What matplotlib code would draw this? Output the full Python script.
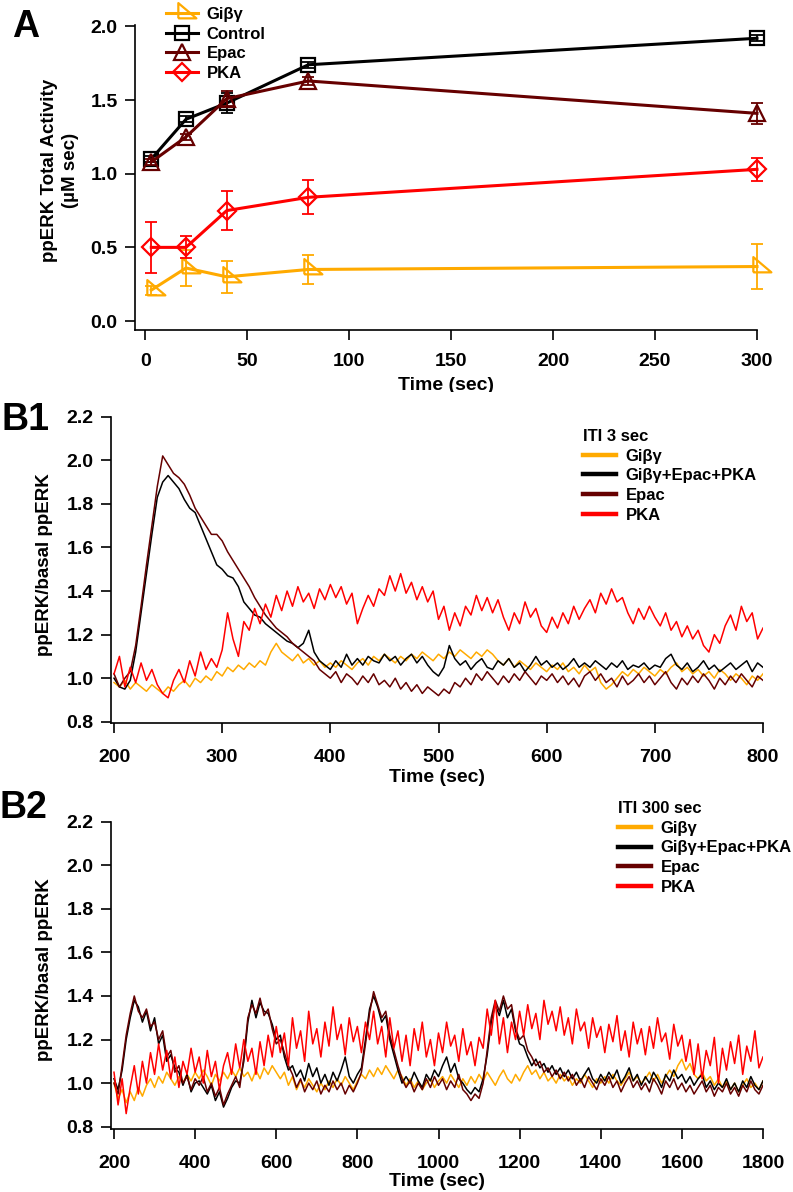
import numpy as np
import matplotlib
matplotlib.use("Agg")
import matplotlib.pyplot as plt
from matplotlib.lines import Line2D
from matplotlib.patches import Rectangle

plt.rcParams['font.family'] = ['Liberation Sans', 'DejaVu Sans']
plt.rcParams['font.weight'] = 'bold'
plt.rcParams['axes.linewidth'] = 1.2

ORANGE = '#FFAA00'
DARKRED = '#660000'
RED = '#FF0000'
BLACK = '#000000'

# ---- panel A: total activity vs ITI ----
iti = [3, 20, 40, 80, 300]
gbg_act = [0.21, 0.36, 0.30, 0.35, 0.37]
gbg_err = [0.03, 0.12, 0.11, 0.10, 0.155]
ctrl_act = [1.10, 1.37, 1.48, 1.74, 1.92]
ctrl_err = [0.02, 0.02, 0.07, 0.02, 0.02]
epac_act = [1.08, 1.25, 1.51, 1.63, 1.41]
epac_err = [0.02, 0.02, 0.05, 0.03, 0.07]
pka_act = [0.50, 0.50, 0.75, 0.84, 1.03]
pka_err = [0.175, 0.075, 0.135, 0.115, 0.077]

# ---- panel B1: ITI 3 sec traces, 200..800 s every 5 s ----
b1_gbg = [0.98, 0.96, 0.99, 0.95, 0.98, 0.96, 0.94, 0.97, 0.95, 0.93, 0.96, 0.94, 0.97, 0.99, 0.96, 1.00, 0.98, 1.01, 0.99, 1.03,
          1.01, 1.05, 1.03, 1.06, 1.04, 1.07, 1.05, 1.08, 1.06, 1.12, 1.16, 1.12, 1.10, 1.08, 1.11, 1.07, 1.09, 1.06, 1.08, 1.05,
          1.07, 1.05, 1.08, 1.06, 1.04, 1.07, 1.09, 1.06, 1.10, 1.08, 1.11, 1.09, 1.07, 1.10, 1.08, 1.11, 1.09, 1.12, 1.10, 1.08,
          1.11, 1.09, 1.12, 1.10, 1.13, 1.11, 1.09, 1.12, 1.10, 1.13, 1.11, 1.08, 1.06, 1.09, 1.05, 1.08, 1.06, 1.04, 1.07, 1.05,
          1.03, 1.06, 1.04, 1.07, 1.03, 1.05, 1.02, 1.06, 1.03, 1.05, 0.98, 0.95, 0.97, 1.00, 1.03, 1.01, 1.04, 1.02, 1.05, 1.03,
          1.01, 1.04, 1.02, 1.05, 1.07, 1.03, 1.05, 1.02, 1.04, 1.01, 1.03, 1.00, 1.04, 1.02, 0.99, 1.02, 1.00, 0.97, 1.01, 0.99,
          1.02]
b1_all = [1.00, 0.96, 0.95, 0.99, 1.12, 1.30, 1.48, 1.66, 1.83, 1.90, 1.93, 1.90, 1.87, 1.82, 1.78, 1.76, 1.70, 1.64, 1.58, 1.52,
          1.50, 1.47, 1.46, 1.42, 1.35, 1.32, 1.29, 1.28, 1.25, 1.23, 1.21, 1.19, 1.17, 1.16, 1.14, 1.16, 1.22, 1.12, 1.08, 1.06,
          1.04, 1.08, 1.05, 1.11, 1.06, 1.09, 1.06, 1.10, 1.08, 1.07, 1.11, 1.08, 1.10, 1.06, 1.09, 1.11, 1.07, 1.10, 1.06, 1.03,
          1.01, 1.05, 1.15, 1.09, 1.06, 1.08, 1.04, 1.07, 1.09, 1.05, 1.04, 1.08, 1.06, 1.09, 1.05, 1.07, 1.03, 1.06, 1.10, 1.06,
          1.08, 1.05, 1.07, 1.04, 1.06, 1.09, 1.05, 1.07, 1.05, 1.08, 1.06, 1.04, 1.07, 1.05, 1.08, 1.04, 1.06, 1.05, 1.07, 1.04,
          1.06, 1.05, 1.09, 1.11, 1.06, 1.04, 1.07, 1.03, 1.05, 1.08, 1.04, 1.06, 1.03, 1.05, 1.07, 1.04, 1.06, 1.08, 1.03, 1.07,
          1.05]
b1_epac = [1.02, 0.96, 1.00, 1.03, 1.15, 1.33, 1.52, 1.70, 1.88, 2.02, 1.98, 1.94, 1.92, 1.89, 1.84, 1.78, 1.74, 1.70, 1.66, 1.66,
           1.63, 1.58, 1.54, 1.50, 1.46, 1.42, 1.37, 1.33, 1.29, 1.26, 1.23, 1.21, 1.19, 1.16, 1.14, 1.12, 1.10, 1.08, 1.04, 1.02,
           1.00, 1.03, 0.98, 1.02, 1.00, 0.97, 1.01, 0.98, 1.02, 0.97, 0.99, 0.96, 1.00, 0.95, 0.98, 0.94, 0.97, 0.93, 0.96, 0.94,
           0.92, 0.95, 0.93, 0.98, 0.96, 1.00, 0.97, 1.02, 0.99, 1.03, 1.00, 0.97, 1.01, 0.98, 1.02, 0.99, 1.03, 1.00, 0.97, 1.01,
           0.99, 1.02, 0.98, 1.01, 0.97, 1.00, 0.96, 1.01, 1.03, 0.99, 1.02, 0.98, 1.00, 0.96, 1.01, 0.97, 0.99, 1.02, 0.98, 1.01,
           0.97, 1.00, 1.03, 0.98, 0.95, 1.00, 0.97, 1.01, 0.98, 1.02, 0.99, 0.95, 1.00, 0.97, 1.01, 0.98, 1.02, 0.99, 0.96, 1.01,
           0.99]
b1_pka = [1.02, 1.10, 0.96, 1.05, 0.98, 1.07, 0.99, 1.04, 0.97, 0.93, 0.91, 0.99, 1.04, 0.98, 1.08, 1.01, 1.12, 1.04, 1.09, 1.05,
          1.13, 1.30, 1.18, 1.10, 1.26, 1.22, 1.32, 1.25, 1.34, 1.28, 1.38, 1.31, 1.40, 1.33, 1.42, 1.35, 1.39, 1.32, 1.41, 1.36,
          1.43, 1.37, 1.42, 1.34, 1.39, 1.25, 1.32, 1.38, 1.33, 1.41, 1.38, 1.47, 1.40, 1.48, 1.39, 1.44, 1.36, 1.42, 1.35, 1.40,
          1.27, 1.33, 1.22, 1.30, 1.24, 1.33, 1.29, 1.38, 1.31, 1.37, 1.30, 1.36, 1.28, 1.22, 1.30, 1.25, 1.35, 1.28, 1.32, 1.24,
          1.21, 1.28, 1.23, 1.30, 1.25, 1.33, 1.27, 1.32, 1.36, 1.30, 1.39, 1.34, 1.41, 1.35, 1.37, 1.30, 1.25, 1.32, 1.27, 1.33,
          1.28, 1.24, 1.30, 1.22, 1.26, 1.19, 1.24, 1.18, 1.22, 1.15, 1.12, 1.20, 1.16, 1.24, 1.29, 1.22, 1.33, 1.26, 1.30, 1.18,
          1.23]

# ---- panel B2: ITI 300 sec traces, 200..1800 s every 10 s ----
b2_gbg = [1.00, 0.93, 0.97, 0.91, 0.96, 0.92, 0.98, 0.94, 0.99, 1.02, 0.98,
          1.03, 1.00, 1.05, 1.02, 0.99, 1.03, 1.00, 1.04, 1.01, 1.05,
          1.02, 1.06, 1.03, 0.99, 1.04, 1.01, 1.05, 1.02, 1.06, 1.03,
          1.07, 1.03, 1.05, 1.01, 1.06, 1.02, 1.07, 1.04, 1.08, 1.05,
          1.02, 1.05, 0.99, 1.03, 0.97, 1.01, 0.98, 1.02, 0.99, 0.96,
          1.00, 0.97, 1.01, 0.98, 1.02, 0.99, 1.03, 1.00, 0.97, 1.01,
          1.04, 1.02, 1.06, 1.03, 1.07, 1.04, 1.08, 1.05, 1.02, 1.06,
          1.03, 0.99, 1.02, 0.98, 1.01, 0.97, 1.00, 1.02, 0.98, 1.01,
          1.03, 1.00, 1.04, 1.01, 0.98, 1.02, 0.99, 1.03, 1.00, 1.04,
          1.01, 1.05, 1.02, 0.99, 1.03, 1.06, 1.02, 1.00, 1.04, 1.01,
          1.05, 1.08, 1.04, 1.06, 1.02, 1.05, 1.01, 1.03, 1.00, 1.04,
          1.01, 1.03, 0.99, 1.02, 1.00, 1.04, 1.01, 0.98, 1.02, 1.00,
          1.03, 1.00, 1.04, 1.01, 0.99, 1.02, 1.05, 1.01, 1.03, 1.00,
          1.02, 1.05, 1.01, 1.04, 1.00, 1.03, 1.06, 1.03, 1.08, 1.11,
          1.06, 1.09, 1.04, 1.02, 1.05, 1.01, 1.03, 0.99, 1.02, 0.98,
          1.01, 0.97, 1.00, 0.96, 0.99, 1.02, 0.98, 1.00, 0.97, 1.01]
b2_all = [1.02, 0.97, 1.06, 1.20, 1.30, 1.38, 1.35, 1.28, 1.33, 1.24, 1.30,
          1.18, 1.22, 1.10, 1.13, 1.07, 1.05, 0.99, 1.04, 0.96, 1.00,
          1.01, 0.98, 0.95, 0.99, 0.92, 0.96, 0.89, 0.93, 0.98, 1.01,
          1.00, 1.10, 1.28, 1.38, 1.30, 1.37, 1.33, 1.32, 1.27, 1.20,
          1.22, 1.12, 1.06, 1.08, 1.03, 1.06, 1.01, 1.09, 1.03, 1.07,
          1.00, 1.04, 0.99, 1.05, 1.01, 1.06, 1.12, 1.03, 1.00, 1.04,
          1.07, 1.20, 1.34, 1.40, 1.35, 1.28, 1.31, 1.20, 1.13, 1.06,
          1.00, 1.03, 1.00, 1.05, 1.01, 0.98, 1.04, 1.01, 1.06, 1.03,
          1.08, 1.12, 1.05, 1.09, 1.02, 1.00, 0.97, 0.95, 0.98, 0.96,
          1.02, 1.13, 1.28, 1.36, 1.31, 1.38, 1.30, 1.34, 1.24, 1.18,
          1.17, 1.12, 1.08, 1.11, 1.07, 1.09, 1.05, 1.08, 1.04, 1.07,
          1.03, 1.06, 1.02, 1.05, 1.01, 1.04, 1.07, 1.02, 1.00, 1.04,
          1.01, 1.05, 1.02, 1.06, 1.00, 1.03, 1.07, 1.01, 1.04, 0.99,
          1.03, 1.00, 1.05, 1.02, 0.98, 1.04, 1.01, 1.06, 1.02, 1.04,
          1.00, 1.03, 0.99, 1.02, 1.04, 0.98, 1.01, 0.97, 1.00, 0.98,
          1.02, 0.97, 1.00, 0.96, 1.01, 0.98, 1.03, 0.99, 0.97, 1.01]
b2_epac = [1.00, 0.95, 1.08, 1.22, 1.32, 1.40, 1.33, 1.30, 1.34, 1.26, 1.28,
           1.20, 1.24, 1.12, 1.15, 1.05, 1.08, 1.00, 1.03, 0.97, 1.02,
           0.99, 1.03, 0.96, 1.00, 0.94, 0.98, 0.90, 0.95, 0.99, 1.03,
           0.98, 1.12, 1.30, 1.36, 1.32, 1.39, 1.31, 1.34, 1.25, 1.18,
           1.20, 1.14, 1.08, 1.04, 0.98, 1.02, 0.96, 1.00, 0.97, 1.01,
           0.95, 0.99, 0.96, 1.01, 0.97, 1.00, 0.95, 0.99, 0.96, 1.00,
           1.05, 1.18, 1.32, 1.42, 1.36, 1.30, 1.33, 1.22, 1.15, 1.08,
           1.02, 0.98, 1.01, 0.96, 1.00, 0.97, 1.02, 0.98, 1.03, 0.99,
           1.02, 0.97, 1.01, 0.98, 1.04, 0.97, 0.95, 0.92, 0.95, 0.93,
           1.00, 1.15, 1.30, 1.38, 1.33, 1.40, 1.34, 1.36, 1.25, 1.20,
           1.22, 1.15, 1.12, 1.08, 1.10, 1.05, 1.07, 1.03, 1.06, 1.02,
           1.05, 1.01, 1.04, 0.99, 1.02, 0.98, 1.03, 1.00, 0.97, 1.02,
           0.99, 1.03, 0.98, 1.01, 0.96, 1.00, 1.03, 0.98, 1.01, 0.97,
           1.00, 0.96, 1.02, 0.99, 0.95, 1.01, 0.98, 1.02, 0.97, 1.00,
           0.96, 0.99, 0.95, 0.98, 1.01, 0.96, 0.99, 0.94, 0.98, 0.96,
           1.00, 0.95, 0.98, 0.94, 0.99, 0.96, 1.01, 0.97, 0.95, 0.99]
b2_pka = [1.05, 0.90, 1.02, 0.86, 0.98, 1.08, 0.95, 1.10, 1.00, 1.14, 1.04,
          1.18, 1.06, 1.15, 1.02, 1.12, 0.98, 1.10, 1.04, 1.16, 1.05,
          1.12, 1.00, 1.15, 1.03, 1.10, 0.97, 1.08, 1.14, 1.04, 1.18,
          1.07, 1.20, 1.10, 1.16, 1.04, 1.19, 1.08, 1.22, 1.12, 1.26,
          1.14, 1.23, 1.08, 1.30, 1.16, 1.24, 1.10, 1.33, 1.18, 1.25,
          1.12, 1.28, 1.17, 1.35, 1.20, 1.27, 1.13, 1.30, 1.19, 1.26,
          1.14, 1.28, 1.20, 1.33, 1.18, 1.26, 1.12, 1.30, 1.16, 1.24,
          1.10, 1.22, 1.08, 1.25, 1.15, 1.28, 1.12, 1.20, 1.08, 1.23,
          1.14, 1.28, 1.17, 1.22, 1.10, 1.25, 1.13, 1.19, 1.08, 1.21,
          1.16, 1.34, 1.22, 1.38, 1.18, 1.30, 1.14, 1.28, 1.20, 1.33,
          1.22, 1.36, 1.25, 1.32, 1.20, 1.38, 1.27, 1.33, 1.24, 1.35,
          1.22, 1.30, 1.18, 1.34, 1.24, 1.28, 1.16, 1.30, 1.21, 1.26,
          1.14, 1.27, 1.19, 1.31, 1.15, 1.24, 1.12, 1.28, 1.18, 1.25,
          1.13, 1.26, 1.16, 1.30, 1.19, 1.23, 1.11, 1.27, 1.17, 1.22,
          1.10, 1.20, 1.04, 1.18, 1.02, 1.15, 1.08, 1.21, 1.00, 1.16,
          1.06, 1.19, 1.09, 1.22, 1.04, 1.17, 1.10, 1.24, 1.07, 1.12]

trace_names = ['Giβγ', 'Giβγ+Epac+PKA', 'Epac', 'PKA']
trace_colors = [ORANGE, BLACK, DARKRED, RED]

W, H = 793, 1192
fig = plt.figure(figsize=(W / 100, H / 100), dpi=100)


def px_axes(left, top, right, bottom):
    return fig.add_axes([left / W, 1 - bottom / H, (right - left) / W, (bottom - top) / H])


def style(ax):
    for s in ('top', 'right'):
        ax.spines[s].set_visible(False)
    ax.tick_params(direction='out', length=7.5, width=1.2, labelsize=14)
    for lab in ax.get_xticklabels() + ax.get_yticklabels():
        lab.set_fontweight('bold')


# ---------------- A ----------------
axA = px_axes(135, 25, 757, 330)
gbg_marker = [(-0.3, -0.35), (1.0, -0.35), (-0.3, 0.75), (-0.3, -0.35)]
series = [
    (gbg_act, gbg_err, ORANGE, gbg_marker, 20, 'Giβγ'),
    (ctrl_act, ctrl_err, BLACK, 's', 10, 'Control'),
    (epac_act, epac_err, DARKRED, '^', 11, 'Epac'),
    (pka_act, pka_err, RED, 'D', 9.5, 'PKA'),
]
handles = []
for vals, errs, col, mk, ms, name in series:
    axA.errorbar(iti, vals, yerr=errs, fmt='none', ecolor=col, elinewidth=1.3,
                 capsize=4, capthick=1.3, clip_on=False)
    ln, = axA.plot(iti, vals, color=col, lw=2.2, marker=mk, ms=ms, mfc='none',
                   mec=col, mew=1.6, clip_on=False, label=name)
    handles.append(ln)
axA.set_xlim(-5, 300)
axA.set_ylim(-0.061, 2.01)
axA.set_xticks([0, 50, 100, 150, 200, 250, 300])
axA.set_yticks([0.0, 0.5, 1.0, 1.5, 2.0])
axA.set_yticklabels(['0.0', '0.5', '1.0', '1.5', '2.0'])
style(axA)
axA.tick_params(axis='x', pad=9)
axA.tick_params(axis='y', pad=5)
axA.legend(handles=handles, loc='upper left', bbox_to_anchor=(166 / W, 1 - 7 / H),
           bbox_transform=fig.transFigure, frameon=False,
           handlelength=1.9, handletextpad=0.55, labelspacing=0.28, borderpad=0,
           borderaxespad=0, prop={'weight': 'bold', 'size': 12})

fig.text(12 / W, 1 - 37 / H, 'A', fontsize=27, fontweight='bold', va='baseline')
fig.text(60 / W, 1 - 170 / H, 'ppERK Total Activity\n(µM sec)', rotation=90,
         ha='center', va='center', fontsize=13.5, fontweight='bold', linespacing=1.3,
         multialignment='center')
fig.text(446 / W, 1 - 385 / H, 'Time (sec)', ha='center', va='center',
         fontsize=14, fontweight='bold')
# the lower part of this label is cut off in the source figure
fig.patches.append(Rectangle((370 / W, 1 - 402 / H), 160 / W, 10 / H,
                             transform=fig.transFigure, facecolor='white',
                             edgecolor='none', zorder=5))


# ---------------- B1 / B2 ----------------
def trace_panel(top, bottom, xlo, xhi, ylo, traces, xticks, title, leg_x, leg_y):
    ax = px_axes(111, top, 763, bottom)
    for vals, col, name in zip(traces, trace_colors, trace_names):
        t = np.linspace(xticks[0], xticks[-1], len(vals))
        ax.plot(t, vals, color=col, lw=1.1, label=name)
    ax.set_xlim(xlo, xhi)
    ax.set_ylim(ylo, 2.2)
    ax.set_xticks(xticks)
    ax.set_yticks([0.8, 1.0, 1.2, 1.4, 1.6, 1.8, 2.0, 2.2])
    ax.set_yticklabels(['0.8', '1.0', '1.2', '1.4', '1.6', '1.8', '2.0', '2.2'])
    style(ax)
    ax.tick_params(axis='x', pad=11)
    ax.tick_params(axis='y', pad=5)
    proxies = [Line2D([], [], color=c, lw=3.2) for c in trace_colors]
    ax.legend(proxies, trace_names, title=title, loc='upper left',
              bbox_to_anchor=(leg_x / W, 1 - leg_y / H),
              bbox_transform=fig.transFigure, frameon=False,
              handlelength=2.0, handletextpad=0.55, labelspacing=0.28,
              borderpad=0, borderaxespad=0, alignment='left',
              prop={'weight': 'bold', 'size': 12},
              title_fontproperties={'weight': 'bold', 'size': 12})
    return ax


trace_panel(416.7, 723.3, 197.2, 800, 0.793, [b1_gbg, b1_all, b1_epac, b1_pka],
            [200, 300, 400, 500, 600, 700, 800], 'ITI 3 sec', 583, 429)
fig.text(2 / W, 1 - 430 / H, 'B1', fontsize=27, fontweight='bold', va='baseline')
fig.text(45 / W, 1 - 565 / H, 'ppERK/basal ppERK', rotation=90, ha='center',
         va='center', fontsize=13.5, fontweight='bold')
fig.text(437 / W, 1 - 777 / H, 'Time (sec)', ha='center', va='center',
         fontsize=14, fontweight='bold')

trace_panel(821.7, 1129.3, 192.6, 1800, 0.788, [b2_gbg, b2_all, b2_epac, b2_pka],
            [200, 400, 600, 800, 1000, 1200, 1400, 1600, 1800], 'ITI 300 sec', 618, 801)
fig.text(0 / W, 1 - 818 / H, 'B2', fontsize=27, fontweight='bold', va='baseline')
fig.text(45 / W, 1 - 970 / H, 'ppERK/basal ppERK', rotation=90, ha='center',
         va='center', fontsize=13.5, fontweight='bold')
fig.text(437 / W, 1 - 1181 / H, 'Time (sec)', ha='center', va='center',
         fontsize=14, fontweight='bold')

fig.savefig('out.png', dpi=100)
